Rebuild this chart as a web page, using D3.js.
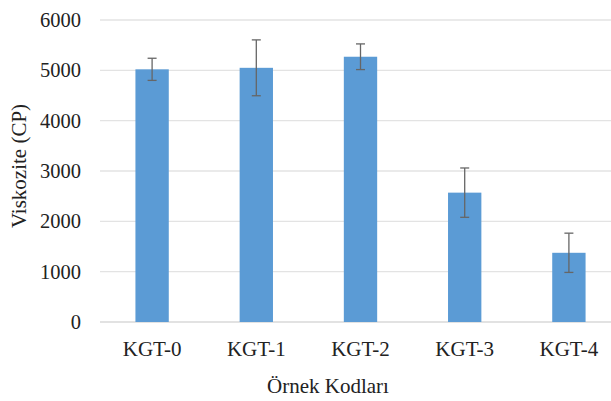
<!DOCTYPE html>
<html><head><meta charset="utf-8">
<script src="https://cdn.jsdelivr.net/npm/d3@7"></script>
<style>body{margin:0;background:#fff}svg{display:block}svg text{font-family:"Liberation Serif","Times New Roman",serif}</style>
</head><body>
<svg id="c" width="611" height="401"></svg>
<script>
const categories = ["KGT-0","KGT-1","KGT-2","KGT-3","KGT-4"];
const values = [5020, 5050, 5270, 2570, 1375];
const errors = [220, 555, 255, 490, 390];
const yTicks = [0,1000,2000,3000,4000,5000,6000];

(function(){
const svg = d3.select("#c");
const mLeft = 100, mRight = 621, mTop = 20, mBottom = 322;
const x = d3.scaleBand().domain(categories).range([mLeft,mRight]).paddingInner(0.68).paddingOuter(0.34);
const y = d3.scaleLinear().domain([0,6000]).range([mBottom,mTop]);

svg.append("g").selectAll("line").data(yTicks).join("line")
  .attr("x1",mLeft).attr("x2",mRight)
  .attr("y1",d=>y(d)).attr("y2",d=>y(d))
  .attr("stroke",d=>d===0?"#d9d9d9":"#e3e3e3").attr("stroke-width",1.3);

const yAxis = d3.axisLeft(y).tickValues(yTicks).tickSize(0).tickPadding(19).tickFormat(d3.format("d"));
const ga = svg.append("g").attr("transform",`translate(${mLeft},0)`).call(yAxis);
ga.attr("font-family",null);
ga.select(".domain").remove();
ga.selectAll("text").attr("font-size","20.5px").attr("fill","#222");

svg.append("g").selectAll("rect").data(categories).join("rect")
  .attr("x",d=>x(d)).attr("width",x.bandwidth())
  .attr("y",(d,i)=>y(values[i])).attr("height",(d,i)=>y(0)-y(values[i]))
  .attr("fill","#5b9bd5");

const eg = svg.append("g").attr("stroke","#666").attr("stroke-width",1.3);
categories.forEach((c,i)=>{
  const cx = x(c)+x.bandwidth()/2;
  const y1 = y(values[i]+errors[i]), y2 = y(values[i]-errors[i]);
  eg.append("line").attr("x1",cx).attr("x2",cx).attr("y1",y1).attr("y2",y2);
  eg.append("line").attr("x1",cx-4.5).attr("x2",cx+4.5).attr("y1",y1).attr("y2",y1);
  eg.append("line").attr("x1",cx-4.5).attr("x2",cx+4.5).attr("y1",y2).attr("y2",y2);
});

const xAxis = d3.axisBottom(x).tickSize(0).tickPadding(19);
const gx = svg.append("g").attr("transform",`translate(0,${mBottom})`).call(xAxis);
gx.attr("font-family",null);
gx.select(".domain").remove();
gx.selectAll("text").attr("font-size","21px").attr("fill","#222");

svg.append("text").attr("x",328).attr("y",393).attr("text-anchor","middle")
  .attr("font-size","21px").attr("fill","#222").text("Örnek Kodları");
svg.append("text").attr("transform","translate(26,166) rotate(-90)").attr("text-anchor","middle")
  .attr("font-size","21px").attr("fill","#222").text("Viskozite (CP)");
})();
</script>
</body></html>
